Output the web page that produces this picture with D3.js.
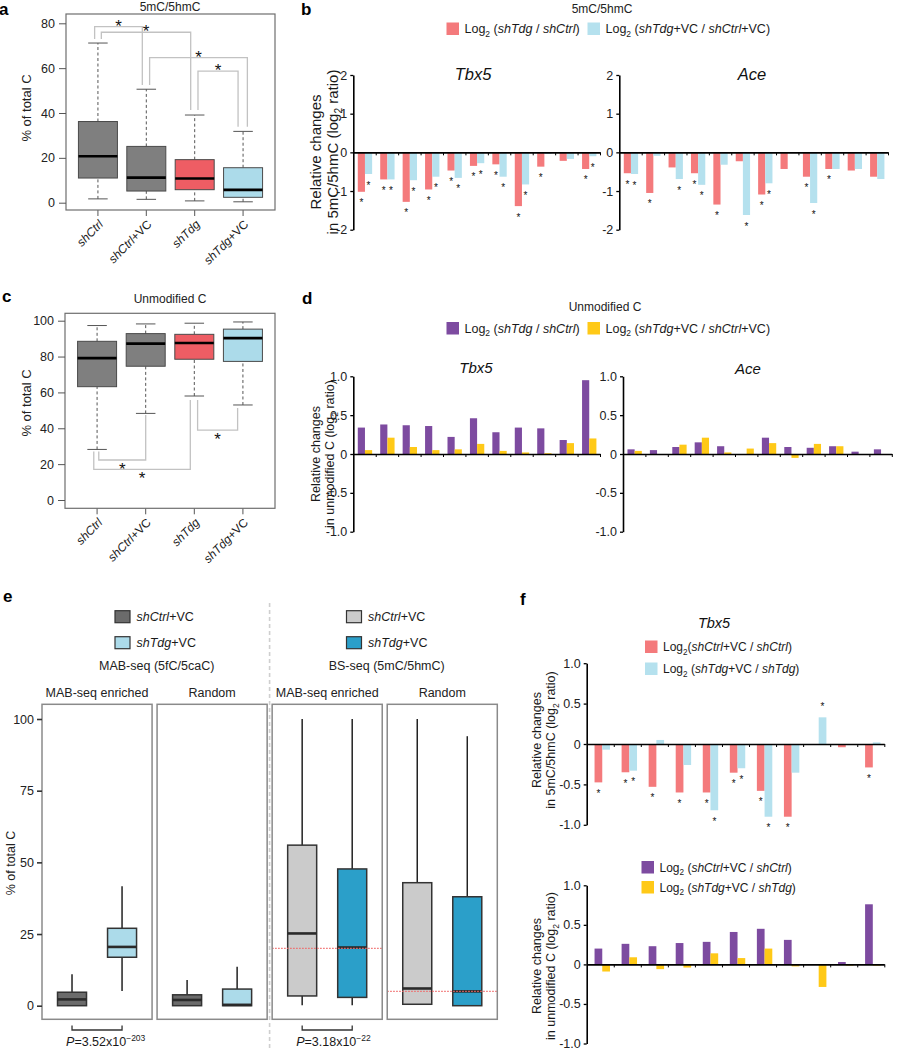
<!DOCTYPE html>
<html>
<head>
<meta charset="utf-8">
<script src="https://cdn.jsdelivr.net/npm/d3@7"></script>
<style>
  body { margin: 0; background: #fff; }
  svg { display: block; font-family: "Liberation Sans", Arial, sans-serif; }
</style>
</head>
<body>
<script>
// ---------- data ----------
var boxGroups = ["shCtrl", "shCtrl+VC", "shTdg", "shTdg+VC"];
var boxColors = ["#7f7f7f", "#7f7f7f", "#ee5d64", "#acdbea"];
// [lower whisker, Q1, median, Q3, upper whisker]  (% of total C)
var boxA = [
  [1.7, 11.0, 20.7, 36.2, 71.2],
  [1.5, 5.2, 11.2, 25.1, 50.6],
  [0.8, 5.8, 10.8, 19.2, 39.1],
  [0.4, 2.4, 5.7, 15.6, 31.8]
];
var boxC = [
  [28.2, 63.2, 79.1, 88.5, 97.3],
  [48.3, 74.6, 87.2, 92.8, 98.2],
  [58.0, 78.5, 87.6, 92.4, 98.6],
  [53.0, 77.3, 90.3, 95.3, 99.3]
];
// significance brackets: groups joined, leg start values and bracket level
var sigA = [
  {from: 0, to: 1, fromY: 73, level: 78.5, toY: 52.5},
  {from: 0, to: 2, fromY: 73, level: 76, toY: 41.3},
  {from: 1, to: 3, fromY: 52.5, level: 64.7, toY: 33.9},
  {from: 2, to: 3, fromY: 41.3, level: 58.7, toY: 33.9}
];
var sigC = [
  {from: 0, to: 1, fromY: 27, level: 22.3, toY: 47.4},
  {from: 0, to: 2, fromY: 27, level: 17.1, toY: 55.8},
  {from: 2, to: 3, fromY: 55.8, level: 39, toY: 51.3}
];

// panel b: log2 ratios in 5mC/5hmC
var tbx5MethTdg   = [-1.02, -0.70, -1.28, -0.96, -0.47, -0.35, -0.31, -1.39, -0.37, -0.22, -0.43];
var tbx5MethTdgVC = [-0.56, -0.70, -0.72, -0.63, -0.66, -0.28, -0.63, -0.83, -0.04, -0.17, -0.10];
var tbx5MethTdgSig   = [1, 1, 1, 1, 1, 1, 1, 1, 1, 0, 1];
var tbx5MethTdgVCSig = [1, 1, 1, 1, 1, 1, 1, 1, 0, 0, 1];
var aceMethTdg   = [-0.54, -1.05, -0.39, -0.54, -1.35, -0.23, -1.09, -0.43, -0.63, -0.43, -0.47, -0.63];
var aceMethTdgVC = [-0.56, -0.09, -0.69, -0.84, -0.32, -1.62, -0.80, 0, -1.31, -0.43, -0.43, -0.69];
var aceMethTdgSig   = [1, 1, 0, 1, 1, 0, 1, 0, 1, 1, 0, 0];
var aceMethTdgVCSig = [1, 0, 1, 1, 0, 1, 1, 0, 1, 0, 0, 0];

// panel d: log2 ratios in unmodified C
var tbx5UnmodTdg   = [0.34, 0.38, 0.37, 0.36, 0.22, 0.46, 0.28, 0.34, 0.33, 0.18, 0.95];
var tbx5UnmodTdgVC = [0.05, 0.21, 0.09, 0.05, 0.06, 0.13, 0.04, 0.02, 0.01, 0.14, 0.20];
var aceUnmodTdg   = [0.06, 0.05, 0.09, 0.15, 0.10, 0, 0.21, 0.09, 0.08, 0.10, 0.03, 0.06];
var aceUnmodTdgVC = [0.04, -0.01, 0.12, 0.21, 0.02, 0.07, 0.14, -0.05, 0.13, 0.10, -0.01, 0];

// panel e: facets of boxplots
var facetTitles = ["MAB-seq enriched", "Random", "MAB-seq enriched", "Random"];
var facetBoxes = [
  [[0, 0, 2.2, 4.7, 11], [5.1, 16.9, 20.5, 27.0, 41.7]],
  [[0, 0, 2.0, 3.8, 9], [0, 0, 0.3, 5.8, 13.6]],
  [[0.2, 3.4, 25.2, 56.0, 100], [0.2, 2.9, 20.3, 47.7, 100]],
  [[0.5, 0.5, 6.0, 42.9, 100], [0, 0, 5.0, 38.0, 94]]
];
var facetFills = [["#6b6b6b", "#acdbea"], ["#6b6b6b", "#acdbea"], ["#cbcbcb", "#2b9fc9"], ["#cbcbcb", "#2b9fc9"]];
var facetRefLine = [null, null, 20, 5];
var pValues = [{facet: 0, base: "3.52", exp: "\u2212203"}, {facet: 2, base: "3.18", exp: "\u221222"}];
var eTicks = [0, 25, 50, 75, 100];

// panel f: Tbx5, effect of VC
var fMethCtrl = [-0.475, -0.35, -0.53, -0.60, -0.60, -0.355, -0.58, -0.90, 0, -0.04, -0.29];
var fMethTdg  = [-0.07, -0.33, 0.05, -0.26, -0.82, -0.30, -0.90, -0.355, 0.33, 0, 0.02];
var fMethCtrlSig = [1, 1, 1, 1, 1, 1, 1, 1, 0, 0, 1];
var fMethTdgSig  = [0, 1, 0, 0, 1, 1, 1, 0, 1, 0, 0];
var fUnmodCtrl = [0.20, 0.26, 0.23, 0.27, 0.285, 0.41, 0.45, 0.31, 0, 0.03, 0.76];
var fUnmodTdg  = [-0.09, 0.09, -0.06, -0.04, 0.14, 0.08, 0.20, -0.025, -0.285, -0.015, -0.015];

// colours
var cRed = "#f47a7c", cBlue = "#b5e1ee", cPurple = "#7d4ba0", cYellow = "#ffc917";

// ---------- setup ----------
var w = 897, h = 1050;
var svg = d3.select("body").append("svg").attr("width", w).attr("height", h);
svg.append("rect").attr("width", w).attr("height", h).attr("fill", "#fff");

// text with italic / sub / sup runs
function rich(parent, x, y, parts, size, anchor) {
  var t = parent.append("text").attr("x", x).attr("y", y)
    .attr("font-size", size).attr("text-anchor", anchor || "start").attr("fill", "#1a1a1a");
  var shift = 0;
  parts.forEach(function(p) {
    var kind = p[1] || "";
    var s = t.append("tspan").text(p[0]);
    var want = kind == "sub" ? size * 0.3 : (kind == "sup" ? -size * 0.42 : 0);
    if (want != shift) { s.attr("dy", want - shift); shift = want; }
    if (kind == "sub" || kind == "sup") s.attr("font-size", size * 0.68);
    if (kind == "i") s.attr("font-style", "italic");
  });
  return t;
}
function labelParts(name) {
  var k = name.indexOf("+");
  return k < 0 ? [[name, "i"]] : [[name.slice(0, k), "i"], [name.slice(k), ""]];
}
function panelLetter(x, y, s) {
  svg.append("text").attr("x", x).attr("y", y).attr("font-size", 17)
    .attr("font-weight", "bold").attr("fill", "#000").text(s);
}
function styleAxis(a, size) {
  a.attr("font-family", null).attr("font-size", size);
  a.selectAll("text").attr("fill", "#222");
}

// ---------- panels a and c ----------
function boxPanel(cfg) {
  var g = svg.append("g");
  var x = d3.scalePoint().domain(d3.range(boxGroups.length)).range([cfg.left, cfg.right]).padding(0.66);
  var y = d3.scaleLinear().domain(cfg.domain).range(cfg.range);
  var bw = 39;

  cfg.sig.forEach(function(b, i) {
    var xa = x(b.from) + cfg.legOff[i][0], xb = x(b.to) + cfg.legOff[i][1];
    g.append("path")
      .attr("d", "M" + xa + "," + y(b.fromY) + "V" + y(b.level) + "H" + xb + "V" + y(b.toY))
      .attr("fill", "none").attr("stroke", "#c2c2c2").attr("stroke-width", 1.3);
    g.append("text").attr("x", (xa + xb) / 2).attr("y", y(b.level) + cfg.starDy)
      .attr("text-anchor", "middle").attr("font-size", 17).attr("fill", "#111").text("*");
  });

  cfg.data.forEach(function(d, i) {
    var cx = x(i);
    g.append("line").attr("x1", cx).attr("x2", cx).attr("y1", y(d[0])).attr("y2", y(d[1]))
      .attr("stroke", "#555").attr("stroke-dasharray", "3,2.5");
    g.append("line").attr("x1", cx).attr("x2", cx).attr("y1", y(d[3])).attr("y2", y(d[4]))
      .attr("stroke", "#555").attr("stroke-dasharray", "3,2.5");
    [d[0], d[4]].forEach(function(v) {
      g.append("line").attr("x1", cx - bw / 4).attr("x2", cx + bw / 4).attr("y1", y(v)).attr("y2", y(v))
        .attr("stroke", "#555");
    });
    g.append("rect").attr("x", cx - bw / 2).attr("width", bw)
      .attr("y", y(d[3])).attr("height", y(d[1]) - y(d[3]))
      .attr("fill", boxColors[i]).attr("stroke", "#4a4a4a");
    g.append("line").attr("x1", cx - bw / 2).attr("x2", cx + bw / 2).attr("y1", y(d[2])).attr("y2", y(d[2]))
      .attr("stroke", "#000").attr("stroke-width", 2.6);
    g.append("line").attr("x1", cx).attr("x2", cx).attr("y1", cfg.bottom).attr("y2", cfg.bottom + 6)
      .attr("stroke", "#555");
    rich(g, 0, 0, labelParts(boxGroups[i]), 12, "end")
      .attr("transform", "translate(" + (cx + 6) + "," + (cfg.bottom + 15) + ") rotate(-45)");
  });

  g.append("rect").attr("x", cfg.left).attr("y", cfg.top)
    .attr("width", cfg.right - cfg.left).attr("height", cfg.bottom - cfg.top)
    .attr("fill", "none").attr("stroke", "#6e6e6e").attr("stroke-width", 1.2);

  var ax = g.append("g").attr("transform", "translate(" + cfg.left + ",0)")
    .call(d3.axisLeft(y).tickValues(cfg.ticks).tickSize(7).tickPadding(4));
  ax.select(".domain").remove();
  ax.selectAll("line").attr("stroke", "#555");
  styleAxis(ax, 12.5);

  g.append("text").attr("transform", "translate(31," + cfg.labelY + ") rotate(-90)")
    .attr("text-anchor", "middle").attr("font-size", 13).attr("fill", "#222").text("% of total C");
  g.append("text").attr("x", 170).attr("y", cfg.titleY).attr("text-anchor", "middle")
    .attr("font-size", 12).attr("fill", "#222").text(cfg.title);
}

boxPanel({
  data: boxA, sig: sigA, left: 66, right: 275, top: 14, bottom: 210,
  domain: [0, 80], range: [202.7, 23.3], ticks: [0, 20, 40, 60, 80],
  legOff: [[-3.3, -4], [3.4, -4], [3.3, 4.3], [3.3, -5]], starDy: 5,
  labelY: 108, title: "5mC/5hmC", titleY: 11
});
boxPanel({
  data: boxC, sig: sigC, left: 65, right: 275, top: 313.3, bottom: 508.3,
  domain: [0, 100], range: [500, 320.7], ticks: [0, 20, 40, 60, 80, 100],
  legOff: [[1.7, 0], [-3.3, -4], [3.3, -5.3]], starDy: 15,
  labelY: 403, title: "Unmodified C", titleY: 303
});
panelLetter(-1, 15, "a");
panelLetter(2, 302, "c");

// ---------- bar charts (b, d, f) ----------
function barChart(cfg) {
  var g = svg.append("g");
  var n = cfg.series[0].vals.length;
  var gx = d3.scaleBand().domain(d3.range(n)).range([cfg.x0, cfg.x1]);
  var sx = d3.scaleBand().domain(d3.range(cfg.series.length))
    .range([gx.bandwidth() * cfg.sub[0], gx.bandwidth() * cfg.sub[1]]);
  var y = d3.scaleLinear().domain(cfg.domain).range(cfg.range);

  cfg.series.forEach(function(s, si) {
    g.selectAll(null).data(s.vals).enter().append("rect")
      .attr("x", function(d, i) { return gx(i) + sx(si); })
      .attr("width", sx.bandwidth())
      .attr("y", function(d) { return y(Math.max(0, d)); })
      .attr("height", function(d) { return Math.abs(y(d) - y(0)); })
      .attr("fill", s.color);
    if (!s.sig) return;
    var starred = s.vals.map(function(d, i) { return {v: d, i: i, on: s.sig[i]}; })
      .filter(function(d) { return d.on; });
    g.selectAll(null).data(starred).enter().append("text")
      .attr("x", function(d) { return gx(d.i) + sx(si) + sx.bandwidth() / 2; })
      .attr("y", function(d) { return d.v < 0 ? y(d.v) + 14.5 : y(d.v) - 7.5; })
      .attr("text-anchor", "middle").attr("font-size", 10).attr("fill", "#111").text("*");
  });

  var ya = g.append("g").attr("transform", "translate(" + cfg.x0 + ",0)")
    .call(d3.axisLeft(y).tickValues(cfg.ticks).tickSize(3).tickSizeOuter(0).tickPadding(3)
      .tickFormat(cfg.fmt));
  ya.select(".domain").attr("stroke-width", 1.6);
  ya.selectAll(".tick line").attr("stroke-width", 1.3);
  styleAxis(ya, 12.5);

  var xl = d3.scaleLinear().domain([0, n]).range([cfg.x0, cfg.x1]);
  var xa = g.append("g").attr("transform", "translate(0," + y(0) + ")")
    .call(d3.axisBottom(xl).tickValues(d3.range(1, n + 1)).tickSize(3).tickSizeOuter(0).tickFormat(""));
  xa.select(".domain").attr("stroke-width", 1.6);

  if (cfg.title) {
    g.append("text").attr("x", cfg.titleX).attr("y", cfg.titleY).attr("text-anchor", "middle")
      .attr("font-size", cfg.titleSize).attr("font-style", "italic").attr("fill", "#111").text(cfg.title);
  }
}
function fmtInt(d) { return String(d); }
function fmtDec(d) { return d === 0 ? "0" : d.toFixed(1); }

function legendItem(x, y, color, parts, size) {
  svg.append("rect").attr("x", x).attr("y", y).attr("width", 12.5).attr("height", 12.5).attr("fill", color);
  rich(svg, x + 18, y + 10.5, parts, size);
}
function yLabel(x, cy, line1, line2, size) {
  var t = svg.append("g").attr("transform", "translate(" + x + "," + cy + ") rotate(-90)");
  rich(t, 0, 0, [[line1, ""]], size, "middle");
  rich(t, 0, size + 1.5, line2, size, "middle");
}

// b
panelLetter(301, 15, "b");
svg.append("text").attr("x", 602).attr("y", 13).attr("text-anchor", "middle")
  .attr("font-size", 12).attr("fill", "#222").text("5mC/5hmC");
legendItem(446.5, 22.5, cRed, [["Log"], ["2", "sub"], [" ("], ["shTdg", "i"], [" / "], ["shCtrl", "i"], [")"]], 12.5);
legendItem(587.5, 22.5, cBlue, [["Log"], ["2", "sub"], [" ("], ["shTdg", "i"], ["+VC / "], ["shCtrl", "i"], ["+VC)"]], 12.5);
barChart({x0: 353.3, x1: 600, domain: [-2, 2], range: [229.7, 75], ticks: [-2, -1, 0, 1, 2], fmt: fmtInt,
  sub: [0.2, 0.84], title: "Tbx5", titleX: 473, titleY: 80, titleSize: 16.5,
  series: [{vals: tbx5MethTdg, color: cRed, sig: tbx5MethTdgSig}, {vals: tbx5MethTdgVC, color: cBlue, sig: tbx5MethTdgVCSig}]});
barChart({x0: 619.3, x1: 888, domain: [-2, 2], range: [229.7, 75], ticks: [-2, -1, 0, 1, 2], fmt: fmtInt,
  sub: [0.2, 0.84], title: "Ace", titleX: 752, titleY: 80, titleSize: 16.5,
  series: [{vals: aceMethTdg, color: cRed, sig: aceMethTdgSig}, {vals: aceMethTdgVC, color: cBlue, sig: aceMethTdgVCSig}]});
yLabel(321, 152, "Relative changes", [["in 5mC/5hmC (log"], ["2", "sub"], [" ratio)"]], 15);

// d
panelLetter(302, 304, "d");
svg.append("text").attr("x", 605).attr("y", 311).attr("text-anchor", "middle")
  .attr("font-size", 12).attr("fill", "#222").text("Unmodified C");
legendItem(446.5, 322, cPurple, [["Log"], ["2", "sub"], [" ("], ["shTdg", "i"], [" / "], ["shCtrl", "i"], [")"]], 12.5);
legendItem(587.5, 322, cYellow, [["Log"], ["2", "sub"], [" ("], ["shTdg", "i"], ["+VC / "], ["shCtrl", "i"], ["+VC)"]], 12.5);
barChart({x0: 353.3, x1: 600, domain: [-1, 1], range: [531.7, 376.3], ticks: [-1, -0.5, 0, 0.5, 1], fmt: fmtDec,
  sub: [0.2, 0.84], title: "Tbx5", titleX: 476, titleY: 373, titleSize: 15,
  series: [{vals: tbx5UnmodTdg, color: cPurple}, {vals: tbx5UnmodTdgVC, color: cYellow}]});
barChart({x0: 623, x1: 891.8, domain: [-1, 1], range: [531.7, 376.3], ticks: [-1, -0.5, 0, 0.5, 1], fmt: fmtDec,
  sub: [0.2, 0.84], title: "Ace", titleX: 748, titleY: 374, titleSize: 15,
  series: [{vals: aceUnmodTdg, color: cPurple}, {vals: aceUnmodTdgVC, color: cYellow}]});
yLabel(320, 454, "Relative changes", [["in unmodified C (log"], ["2", "sub"], [" ratio)"]], 12.5);

// f
panelLetter(520, 605, "f");
svg.append("text").attr("x", 714).attr("y", 628).attr("text-anchor", "middle")
  .attr("font-size", 14.5).attr("font-style", "italic").attr("fill", "#111").text("Tbx5");
legendItem(645, 640.5, cRed, [["Log"], ["2", "sub"], ["("], ["shCtrl", "i"], ["+VC / "], ["shCtrl", "i"], [")"]], 12);
legendItem(645, 662.5, cBlue, [["Log"], ["2", "sub"], [" ("], ["shTdg", "i"], ["+VC / "], ["shTdg", "i"], [")"]], 12);
barChart({x0: 586.7, x1: 884.3, domain: [-1, 1], range: [824.8, 663.2], ticks: [-1, -0.5, 0, 0.5, 1], fmt: fmtDec,
  sub: [0.29, 0.86],
  series: [{vals: fMethCtrl, color: cRed, sig: fMethCtrlSig}, {vals: fMethTdg, color: cBlue, sig: fMethTdgSig}]});
yLabel(541, 740, "Relative changes", [["in 5mC/5hmC (log"], ["2", "sub"], [" ratio)"]], 12.5);
legendItem(641.5, 861, cPurple, [["Log"], ["2", "sub"], [" ("], ["shCtrl", "i"], ["+VC / "], ["shCtrl", "i"], [")"]], 12);
legendItem(641.5, 881, cYellow, [["Log"], ["2", "sub"], [" ("], ["shTdg", "i"], ["+VC / "], ["shTdg", "i"], [")"]], 12);
barChart({x0: 586.7, x1: 884.3, domain: [-1, 1], range: [1043.5, 885.3], ticks: [-1, -0.5, 0, 0.5, 1], fmt: fmtDec,
  sub: [0.29, 0.86],
  series: [{vals: fUnmodCtrl, color: cPurple}, {vals: fUnmodTdg, color: cYellow}]});
yLabel(541, 966, "Relative changes", [["in unmodified C (log"], ["2", "sub"], [" ratio)"]], 12.5);

// ---------- panel e ----------
panelLetter(3, 602, "e");
var ge = svg.append("g");
var fx = d3.scaleBand().domain(d3.range(4)).range([42, 497.3]).paddingInner(0.0435);
var ye = d3.scaleLinear().domain([0, 100]).range([1005.7, 719]);
var eTop = 704.3, eBottom = 1019.3, ebw = 29;

ge.append("line").attr("x1", 269.6).attr("x2", 269.6).attr("y1", 603).attr("y2", 1050)
  .attr("stroke", "#cfcfcf").attr("stroke-width", 1.6).attr("stroke-dasharray", "4,3");

function eLegend(x, y, color, parts) {
  ge.append("rect").attr("x", x).attr("y", y).attr("width", 15).attr("height", 12)
    .attr("fill", color).attr("stroke", "#333").attr("stroke-width", 1.2);
  rich(ge, x + 21.5, y + 10.3, parts, 12.5);
}
eLegend(115, 610.7, facetFills[0][0], [["shCtrl", "i"], ["+VC"]]);
eLegend(115, 636.7, facetFills[0][1], [["shTdg", "i"], ["+VC"]]);
eLegend(346.5, 610.7, facetFills[2][0], [["shCtrl", "i"], ["+VC"]]);
eLegend(346.5, 636.7, facetFills[2][1], [["shTdg", "i"], ["+VC"]]);
ge.append("text").attr("x", 156.7).attr("y", 669.5).attr("text-anchor", "middle")
  .attr("font-size", 12.5).attr("fill", "#222").text("MAB-seq (5fC/5caC)");
ge.append("text").attr("x", 386.7).attr("y", 669.5).attr("text-anchor", "middle")
  .attr("font-size", 12.5).attr("fill", "#222").text("BS-seq (5mC/5hmC)");

facetTitles.forEach(function(title, f) {
  var left = fx(f), fw = fx.bandwidth();
  var bx = d3.scalePoint().domain([0, 1]).range([left, left + fw]).padding(0.6);
  ge.append("text").attr("x", left + fw / 2).attr("y", 697).attr("text-anchor", "middle")
    .attr("font-size", 12.5).attr("fill", "#222").text(title);
  facetBoxes[f].forEach(function(d, k) {
    var cx = bx(k);
    if (d[4] > d[3]) ge.append("line").attr("x1", cx).attr("x2", cx).attr("y1", ye(d[3])).attr("y2", ye(d[4]))
      .attr("stroke", "#222").attr("stroke-width", 1.5);
    if (d[1] > d[0]) ge.append("line").attr("x1", cx).attr("x2", cx).attr("y1", ye(d[0])).attr("y2", ye(d[1]))
      .attr("stroke", "#222").attr("stroke-width", 1.5);
    ge.append("rect").attr("x", cx - ebw / 2).attr("width", ebw)
      .attr("y", ye(d[3])).attr("height", ye(d[1]) - ye(d[3]))
      .attr("fill", facetFills[f][k]).attr("stroke", "#333").attr("stroke-width", 1.5);
    ge.append("line").attr("x1", cx - ebw / 2).attr("x2", cx + ebw / 2).attr("y1", ye(d[2])).attr("y2", ye(d[2]))
      .attr("stroke", "#2a2a2a").attr("stroke-width", 2.6);
  });
  if (facetRefLine[f] != null) {
    ge.append("line").attr("x1", left).attr("x2", left + fw)
      .attr("y1", ye(facetRefLine[f])).attr("y2", ye(facetRefLine[f]))
      .attr("stroke", "#f06a6a").attr("stroke-width", 1.2).attr("stroke-dasharray", "1.5,1.5");
  }
  ge.append("rect").attr("x", left).attr("y", eTop).attr("width", fw).attr("height", eBottom - eTop)
    .attr("fill", "none").attr("stroke", "#8a8a8a").attr("stroke-width", 1.5);
});

pValues.forEach(function(p) {
  var left = fx(p.facet), fw = fx.bandwidth();
  var bx = d3.scalePoint().domain([0, 1]).range([left, left + fw]).padding(0.6);
  ge.append("path").attr("d", "M" + bx(0) + ",1025.5V1030H" + bx(1) + "V1025.5")
    .attr("fill", "none").attr("stroke", "#333").attr("stroke-width", 1.3);
  rich(ge, (bx(0) + bx(1)) / 2 - 31, 1046, [["P", "i"], ["=" + p.base + "x10"], [p.exp, "sup"]], 12.5);
});

var eAx = ge.append("g").attr("transform", "translate(42,0)")
  .call(d3.axisLeft(ye).tickValues(eTicks).tickSize(5).tickPadding(3));
eAx.select(".domain").remove();
eAx.selectAll(".tick line").attr("stroke", "#333").attr("stroke-width", 1.6);
styleAxis(eAx, 12.5);
ge.append("text").attr("transform", "translate(15,863) rotate(-90)").attr("text-anchor", "middle")
  .attr("font-size", 12.5).attr("fill", "#222").text("% of total C");
</script>
</body>
</html>
